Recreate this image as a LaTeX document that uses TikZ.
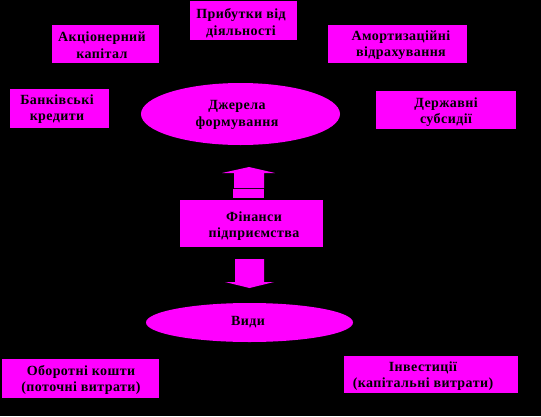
\documentclass[tikz,border=0pt]{standalone}
\usepackage{fontspec}
\setmainfont{Liberation Serif}[LetterSpace=3]
\definecolor{mag}{HTML}{FF00FF}
\usetikzlibrary{shapes.geometric}
\tikzset{
  box/.style={rectangle, fill=mag, draw=none, inner sep=0pt, align=center,
    font=\fontsize{14}{16.5}\selectfont\bfseries, text=black},
  oval/.style={ellipse, fill=mag, draw=none, inner sep=0pt, align=center,
    font=\fontsize{14}{16.5}\selectfont\bfseries, text=black},
  lbl/.style={inner sep=0pt, align=center,
    font=\fontsize{14}{16.5}\selectfont\bfseries, text=black},
  blockarrow/.style={fill=mag, draw=none}
}
\begin{document}
\begin{tikzpicture}[x=1pt,y=-1pt]
\fill[black] (0,0) rectangle (541,416);
\useasboundingbox (0,0) rectangle (541,416);

\node[box, minimum width=107pt, minimum height=39pt] (prib) at (243,20.5) {};
\node[lbl] (pribt) at (241,23) {Прибутки від\\діяльності};
\node[box, minimum width=107pt, minimum height=38pt] (akc) at (105.5,44) {};
\node[lbl] (akct) at (102,45) {Акціонерний\\капітал};
\node[box, minimum width=139pt, minimum height=38pt] (amor) at (397.5,44) {};
\node[lbl] (amort) at (401,45) {Амортизаційні\\відрахування};
\node[box, minimum width=99pt, minimum height=39pt] (bank) at (59.5,108.5) {};
\node[lbl] (bankt) at (57,109) {Банківські\\кредити};
\node[box, minimum width=140pt, minimum height=38pt] (derzh) at (446,110) {};
\node[lbl] (derzht) at (446,112) {Державні\\субсидії};
\node[oval, minimum width=199pt, minimum height=62pt] (dzh) at (240.5,114) {};
\node[lbl] (dzht) at (237,115) {Джерела\\формування};

\node[box, minimum width=143pt, minimum height=47pt] (fin) at (251.5,223.5) {};
\node[lbl] (fint) at (254,226) {Фінанси\\підприємства};

\node[oval, minimum width=207pt, minimum height=39pt] (vydy) at (249.5,322.5) {};
\node[lbl] (vydyt) at (248,322) {Види};

\node[box, minimum width=157pt, minimum height=39pt] (obor) at (80.5,378.5) {};
\node[lbl] (obort) at (81,380) {Оборотні кошти\\(поточні витрати)};
\node[box, minimum width=174pt, minimum height=37pt] (inv) at (431,374.5) {};
\node[lbl] (invt) at (423,376) {Інвестиції\\(капітальні витрати)};

% up block arrow (between fin and dzh)
\coordinate (ua) at (249,167);
\fill[blockarrow] (ua) -- (275,173) -- (264,173) -- (264,188) -- (234,188) -- (234,173) -- (222,173) -- cycle;
\fill[blockarrow] (233,189) rectangle (264,198);

% down block arrow (between fin and vydy)
\coordinate (da) at (249.5,288);
\fill[blockarrow] (235,259) -- (264,259) -- (264,282) -- (274,282) -- (da) -- (225,282) -- (235,282) -- cycle;
\end{tikzpicture}
\end{document}
